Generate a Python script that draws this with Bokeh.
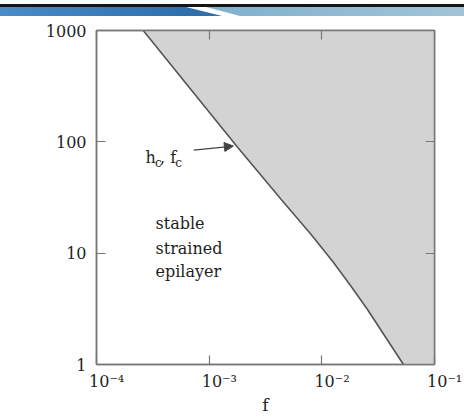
from bokeh.plotting import figure
from bokeh.models import (Range1d, FixedTicker, LogAxis, Label, Arrow, NormalHead, Div)
from bokeh.layouts import column
from bokeh.embed import file_html
from bokeh.resources import INLINE

# ---- data ----
h_crit = [1000, 300, 90, 30, 15, 8.4, 5, 3.1, 1.0]          # critical thickness, nm
f_crit = [2.6e-4, 6.8e-4, 1.78e-3, 4.4e-3, 7.9e-3, 1.25e-2, 1.83e-2, 2.55e-2, 5.3e-2]  # misfit
x_ticks = [1e-4, 1e-3, 1e-2, 1e-1]
x_tick_labels = ["10\u207b\u2074", "10\u207b\u00b3", "10\u207b\u00b2", "10\u207b\u00b9"]
y_ticks = [1, 10, 100, 1000]
y_tick_labels = ["1", "10", "100", "1000"]
region_lines = ["stable", "strained", "epilayer"]

FONT = "DejaVu Serif"
TXT = "#1e1e1e"
FRAME = "#777777"

p = figure(width=464, height=401, x_axis_type="log", y_axis_type="log",
           x_range=Range1d(1e-4, 1e-1), y_range=Range1d(1, 1000),
           output_backend="svg", toolbar_location=None,
           min_border_left=96, min_border_right=30, min_border_top=14,
           min_border_bottom=49)
p.grid.visible = False
p.background_fill_color = "white"
p.border_fill_color = "white"
p.outline_line_color = FRAME
p.outline_line_width = 1.5

pad = "\u00a0" * 4
for ax in p.xaxis:
    ax.ticker = FixedTicker(ticks=x_ticks, minor_ticks=[])
    ax.major_label_overrides = {t: pad + l for t, l in zip(x_ticks, x_tick_labels)}
for ax in p.yaxis:
    ax.ticker = FixedTicker(ticks=y_ticks, minor_ticks=[])
    ax.major_label_overrides = {t: l for t, l in zip(y_ticks, y_tick_labels)}

for ax in list(p.xaxis) + list(p.yaxis):
    ax.major_tick_in = 9
    ax.major_tick_out = 0
    ax.minor_tick_line_color = None
    ax.axis_line_color = FRAME
    ax.axis_line_width = 1.5
    ax.major_tick_line_color = FRAME
    ax.major_tick_line_width = 1.2
    ax.major_label_text_font = FONT
    ax.major_label_text_font_size = "16px"
    ax.major_label_text_color = TXT

p.xaxis.major_label_standoff = 7
p.yaxis.major_label_standoff = 10
p.xaxis.axis_label = "f"
p.xaxis.axis_label_text_font = FONT
p.xaxis.axis_label_text_font_style = "normal"
p.xaxis.axis_label_text_font_size = "17px"
p.xaxis.axis_label_text_color = TXT
p.xaxis.axis_label_standoff = 1

top = LogAxis(ticker=FixedTicker(ticks=x_ticks, minor_ticks=[]))
right = LogAxis(ticker=FixedTicker(ticks=y_ticks, minor_ticks=[]))
for ax in (top, right):
    ax.major_tick_in = 9
    ax.major_tick_out = 0
    ax.minor_tick_line_color = None
    ax.axis_line_color = FRAME
    ax.axis_line_width = 1.5
    ax.major_tick_line_color = FRAME
    ax.major_tick_line_width = 1.2
    ax.major_label_text_font_size = "1px"
    ax.major_label_text_color = None
    ax.major_label_standoff = 0
p.add_layout(top, "above")
p.add_layout(right, "right")

# shaded unstable region
xs = list(f_crit) + [x_ticks[-1], x_ticks[-1]]
ys = list(h_crit) + [y_ticks[0], y_ticks[-1]]
p.patch(xs, ys, fill_color="#d3d3d3", line_color=None)
p.line(f_crit, h_crit, line_color="#555555", line_width=1.6)

# text in the stable region
for txt, yv in zip(region_lines, [18.6, 11.0, 6.9]):
    p.add_layout(Label(x=3.34e-4, y=yv, text=txt, text_font=FONT, text_font_size="16px",
                       text_color=TXT, text_baseline="middle", text_align="left"))

# h_c, f_c label
p.add_layout(Label(x=2.72e-4, y=71.6, text="h", text_font=FONT, text_font_size="16px",
                   text_color=TXT, text_baseline="alphabetic"))
p.add_layout(Label(x=3.3e-4, y=65.0, text="c", text_font=FONT, text_font_size="12px",
                   text_color=TXT, text_baseline="alphabetic"))
p.add_layout(Label(x=3.66e-4, y=71.6, text=",\u00a0f", text_font=FONT, text_font_size="16px",
                   text_color=TXT, text_baseline="alphabetic"))
p.add_layout(Label(x=5.0e-4, y=65.0, text="c", text_font=FONT, text_font_size="12px",
                   text_color=TXT, text_baseline="alphabetic"))
p.add_layout(Arrow(end=NormalHead(size=9, fill_color="#444444", line_color="#444444"),
                   x_start=7.3e-4, y_start=84.4, x_end=1.64e-3, y_end=91.6,
                   line_color="#444444", line_width=1.3))

# y axis title (horizontal)
p.add_layout(Label(x=1.656e-5, y=28.5, text="h, nm", text_font=FONT, text_font_size="16px",
                   text_color=TXT, text_baseline="middle", text_align="left"))

banner_html = (
    '<div style="position:relative;width:464px;height:16px;background:#ffffff;overflow:hidden;">'
    '<div style="position:absolute;top:4px;left:0;width:464px;height:3px;background:#151515;"></div>'
    '<div style="position:absolute;top:7px;left:0;width:464px;height:9px;'
    'background:linear-gradient(90deg,#4a8cc6 0%,#2f6faa 40%);'
    'clip-path:polygon(0 0,186px 0,222px 100%,0 100%);"></div>'
    '<div style="position:absolute;top:7px;left:0;width:464px;height:9px;'
    'background:linear-gradient(90deg,#7fb0cc 45%,#a2c4d6 100%);'
    'clip-path:polygon(206px 0,100% 0,100% 100%,240px 100%);"></div>'
    '</div>'
)
banner = Div(text=banner_html, width=464, height=16, margin=(0, 0, 0, 0))

layout = column(banner, p, spacing=0, margin=(0, 0, 0, 0))
open("out.html", "w").write(file_html(layout, INLINE))
